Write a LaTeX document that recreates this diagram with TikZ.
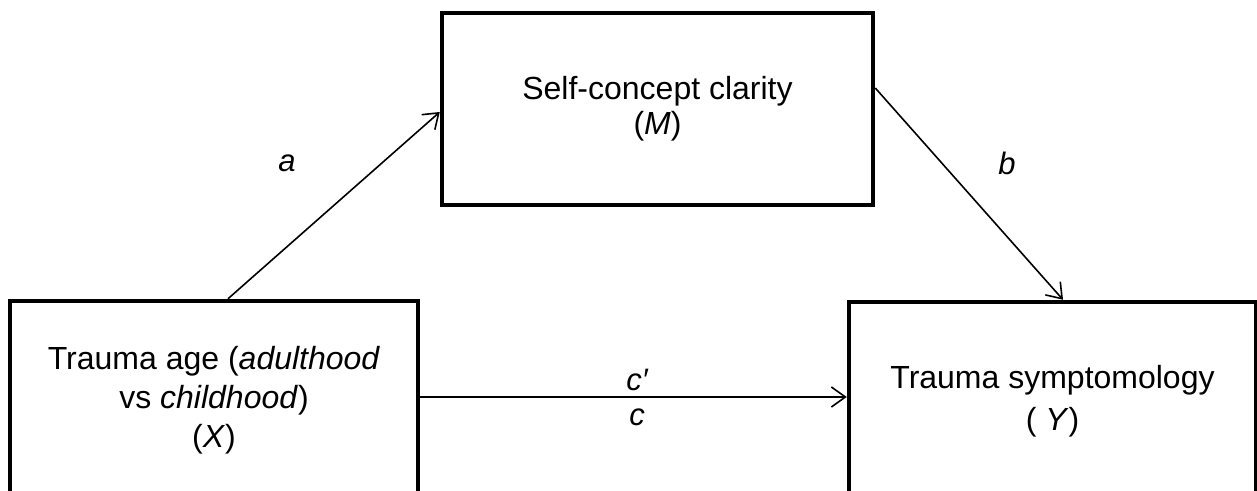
\documentclass[tikz,border=0pt]{standalone}
\usepackage{fontspec}
\setmainfont{Liberation Sans}
\usetikzlibrary{arrows.meta}
\begin{document}
\begin{tikzpicture}[x=1pt,y=-1pt,
  box/.style={draw=black, line width=4.5pt, rectangle, align=center, inner sep=0pt,
    font=\fontsize{32}{39}\selectfont},
  arr/.style={draw=black, line width=1.6pt, -{Straight Barb[length=14pt,width=20pt,line width=1.6pt]}},
  lab/.style={font=\fontsize{31}{36}\selectfont\itshape, inner sep=0pt}]
\fill[white] (0,0) rectangle (1257,490);
\clip (0,0) rectangle (1257,490);
\node[box, minimum width=408pt, minimum height=199pt] (X) at (214,400.5)
  {Trauma age (\textit{adulthood}\\vs \textit{childhood})\\(\textit{X})};
\node[box, minimum width=431pt, minimum height=192pt, font=\fontsize{32}{35}\selectfont] (M) at (657.5,109)
  {Self-concept clarity\\(\textit{M})};
\node[box, minimum width=407pt, minimum height=198pt, font=\fontsize{32}{42}\selectfont] (Y) at (1052.5,401)
  {Trauma symptomology\\( \textit{Y})};
\draw[arr] (X.north -| 228,0) -- (M.west |- 0,112);
\draw[arr] (M.east |- 0,88) -- (Y.north -| 1063,0);
\draw[arr] (X.east |- 0,397) -- (Y.west |- 0,397);
\node[lab] (la) at (287,163) {a};
\node[lab] (lb) at (1007,163) {b};
\node[lab] (lcp) at (637,380) {c′};
\node[lab] (lc) at (637,417) {c};
\end{tikzpicture}
\end{document}
